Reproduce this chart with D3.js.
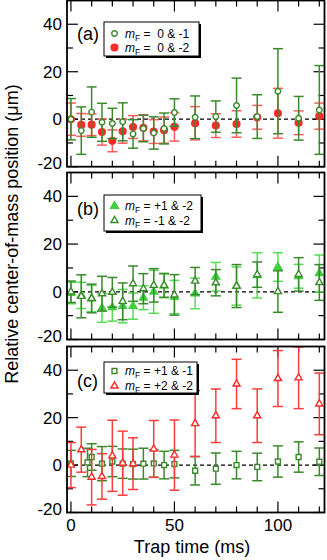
<!DOCTYPE html>
<html>
<head>
<meta charset="utf-8">
<script src="https://cdn.jsdelivr.net/npm/d3@7"></script>
<style>
  body { margin: 0; background: #fff; }
</style>
</head>
<body>
<div id="chart"></div>
<script>
// panel (a)
var timesA = [0, 5, 10, 15, 20, 25, 30, 35, 40, 45, 50, 60, 70, 80, 90, 100, 110, 120];
var a01Values = [0, -4.8, 3.0, -1.3, -1.8, -1.1, -6.2, -3.9, -5.8, -3.9, 2.8, 0.8, 1.1, 5.8, 1.1, 11.8, 0.4, 3.9];
var a01Errors = [8.7, 10, 10.6, 8, 6.4, 8, 6, 5.6, 6.8, 6.5, 5.8, 9, 6.6, 11.5, 9.2, 17.9, 9.2, 18.7];
var a02Values = [0, -2.4, -2.3, -5.4, -9.1, -5.1, -3.3, -3.6, -5.2, -4.6, -3.2, -1.7, -2.7, -2.0, 0.8, 2.5, -1.5, 1.3];
var a02Errors = [6.8, 4.8, 4.6, 5.5, 4.6, 5, 4.8, 5.5, 5, 5.5, 6, 7, 5, 5.6, 5, 10.5, 5, 5.5];

// panel (b)
var timesB = [0, 5, 10, 15, 20, 25, 30, 35, 40, 45, 50, 60, 70, 80, 90, 100, 110, 120];
var bP1Values = [-0.5, -1.5, -2.8, -6.8, -6.5, -6.0, -6.0, -2.5, 0, 2.5, -2.2, -0.7, 6.3, 2.4, 6.9, 10.4, 6.5, 7.7];
var bP1Errors = [4.5, 5.5, 5.5, 6, 5.8, 7, 5.5, 5, 9, 5, 7, 6.4, 6, 8, 9.5, 6, 5, 7.7];
var bM1Values = [0, -1.9, -2.8, -0.8, -0.2, -4.0, 3.4, 1.3, 2.7, 2.7, -1.3, 4.5, 3.8, 2.4, 7.2, 0.1, 7.3, 3.9];
var bM1Errors = [4.5, 9, 6, 7.3, 6.2, 7.7, 7.4, 6.3, 7, 5, 8.5, 5.7, 5.5, 9, 5.3, 8.7, 7, 7.5];

// panel (c)
var timesC1 = [0, 8, 10, 15, 20, 25, 30, 35, 40, 45, 50, 60, 70, 80, 90, 100, 110, 120];
var c11Values = [0.7, 1.1, 3.4, 0.6, 1.5, 0.6, 0.4, 0.6, 0.7, 0, 0.4, -2.4, -1.5, 0, -0.8, 1.5, 3.4, 1.4];
var c11Errors = [5.5, 6, 5.6, 7.2, 6.4, 6.2, 6.3, 6.5, 5.8, 5.8, 5.8, 6, 6.6, 5.8, 5.8, 6.6, 6.4, 5.8];
var timesC2 = [0, 5, 10, 15, 20, 25, 30, 40, 50, 60, 70, 80, 90, 100, 110, 120];
var c22Values = [0, 6.5, -5.1, -4.8, 3.9, 0.8, 0.6, 6.8, 4.2, 17.5, 20.8, 34.2, 20.8, 36.5, 36.8, 25.8];
var c22Errors = [9.5, 9.5, 11.7, 9.6, 15, 13.5, 10.9, 12, 14.8, 13.9, 11.3, 10.4, 11.3, 11.8, 13, 13];

var yMajorTicks = [-20, 0, 20, 40];
var yMinorTicks = [-10, 10, 30];
var xMajorTicks = [0, 50, 100];
var xMinorTicks = [10, 20, 30, 40, 60, 70, 80, 90, 110, 120];

var darkGreen = '#3a8a2c';
var lightGreen = '#3fcf3f';
var red = '#ff2a2a';

var svg = d3.select('#chart')
  .append('svg')
  .attr('width', 327)
  .attr('height', 560)
  .attr('font-family', '"Liberation Sans", Arial, Helvetica, sans-serif');

var x = d3.scaleLinear().domain([-1.9, 122.5]).range([67, 324.5]);

function zip(times, values, errors) {
  return times.map(function(t, i) {
    return {t: t, v: values[i], e: errors[i]};
  });
}

var panels = [
  {
    top: 0.5, bottom: 166.7, label: '(a)', labelY: 40,
    legendY: 22, legendW: 95, legendH: 34, rows: [11.5, 25.5],
    series: [
      {name: ' 0 & -2', data: zip(timesA, a02Values, a02Errors), shape: 'circle', size: 36, fill: red, stroke: red, bar: '#ff5c5c', legend: 1},
      {name: ' 0 & -1', data: zip(timesA, a01Values, a01Errors), shape: 'circle', size: 24, fill: '#fff', stroke: darkGreen, bar: darkGreen, legend: 0}
    ]
  },
  {
    top: 172.5, bottom: 339.5, label: '(b)', labelY: 215,
    legendY: 195, legendW: 97, legendH: 36, rows: [11, 25.5],
    series: [
      {name: '+1 & -2', data: zip(timesB, bP1Values, bP1Errors), shape: 'triangle', size: 26, fill: lightGreen, stroke: lightGreen, bar: '#55dd55', legend: 0},
      {name: '-1 & -2', data: zip(timesB, bM1Values, bM1Errors), shape: 'triangle', size: 22, fill: '#fff', stroke: darkGreen, bar: darkGreen, legend: 1}
    ]
  },
  {
    top: 346.5, bottom: 512.5, label: '(c)', labelY: 387,
    legendY: 362, legendW: 93, legendH: 31, rows: [9, 24],
    series: [
      {name: '+1 & -1', data: zip(timesC1, c11Values, c11Errors), shape: 'square', size: 24, fill: '#fff', stroke: darkGreen, bar: darkGreen, legend: 0},
      {name: '+2 & -2', data: zip(timesC2, c22Values, c22Errors), shape: 'triangle', size: 22, fill: '#fff', stroke: red, bar: '#ff3b3b', legend: 1}
    ]
  }
];

var shapes = {circle: d3.symbolCircle, triangle: d3.symbolTriangle, square: d3.symbolSquare};

panels.forEach(function(p, pi) {
  var y = d3.scaleLinear().domain([-20, 50]).range([p.bottom, p.top]);
  var g = svg.append('g');

  // ticks, inward on all four sides
  var yt = yMajorTicks.map(function(d) { return {v: d, len: 11}; })
    .concat(yMinorTicks.map(function(d) { return {v: d, len: 6}; }));
  var xt = xMajorTicks.map(function(d) { return {v: d, len: 11}; })
    .concat(xMinorTicks.map(function(d) { return {v: d, len: 6}; }));

  yt.forEach(function(d) {
    g.append('line').attr('x1', 67).attr('x2', 67 + d.len)
      .attr('y1', y(d.v)).attr('y2', y(d.v)).attr('stroke', '#000').attr('stroke-width', 1.2);
    g.append('line').attr('x1', 324.5).attr('x2', 324.5 - d.len)
      .attr('y1', y(d.v)).attr('y2', y(d.v)).attr('stroke', '#000').attr('stroke-width', 1.2);
  });
  xt.forEach(function(d) {
    g.append('line').attr('x1', x(d.v)).attr('x2', x(d.v))
      .attr('y1', p.bottom).attr('y2', p.bottom - d.len).attr('stroke', '#000').attr('stroke-width', 1.2);
    g.append('line').attr('x1', x(d.v)).attr('x2', x(d.v))
      .attr('y1', p.top).attr('y2', p.top + d.len).attr('stroke', '#000').attr('stroke-width', 1.2);
  });

  // y tick labels
  yMajorTicks.forEach(function(d) {
    g.append('text')
      .attr('x', 62)
      .attr('y', y(d) + 6 - (d === -20 ? 4 : 0))
      .attr('text-anchor', 'end')
      .attr('font-size', 17)
      .text(d);
  });

  // zero line
  g.append('line')
    .attr('x1', 67).attr('x2', 324.5)
    .attr('y1', y(0)).attr('y2', y(0))
    .attr('stroke', '#000').attr('stroke-width', 1.2)
    .attr('stroke-dasharray', '4,3');

  // data
  p.series.forEach(function(s) {
    var sg = g.append('g');
    var pts = sg.selectAll('.pt').data(s.data).enter().append('g').attr('class', 'pt');
    pts.append('line')
      .attr('x1', function(d) { return x(d.t); })
      .attr('x2', function(d) { return x(d.t); })
      .attr('y1', function(d) { return y(d.v - d.e); })
      .attr('y2', function(d) { return y(d.v + d.e); })
      .attr('stroke', s.bar).attr('stroke-width', 1.5);
    [-1, 1].forEach(function(sign) {
      pts.append('line')
        .attr('x1', function(d) { return x(d.t) - 5; })
        .attr('x2', function(d) { return x(d.t) + 5; })
        .attr('y1', function(d) { return y(d.v + sign * d.e); })
        .attr('y2', function(d) { return y(d.v + sign * d.e); })
        .attr('stroke', s.bar).attr('stroke-width', 1.5);
    });
    pts.append('path')
      .attr('d', d3.symbol(shapes[s.shape], s.size))
      .attr('transform', function(d) { return 'translate(' + x(d.t) + ',' + y(d.v) + ')'; })
      .attr('fill', s.fill)
      .attr('stroke', s.stroke)
      .attr('stroke-width', 1.4);
  });

  // frame
  g.append('rect')
    .attr('x', 67).attr('y', p.top)
    .attr('width', 324.5 - 67).attr('height', p.bottom - p.top)
    .attr('fill', 'none').attr('stroke', '#000').attr('stroke-width', 1.8);

  // panel label
  g.append('text').attr('x', 77).attr('y', p.labelY).attr('font-size', 18).text(p.label);

  // legend with drop shadow
  var lx = 104, ly = p.legendY;
  g.append('rect').attr('x', lx + 2).attr('y', ly + 2).attr('width', p.legendW).attr('height', p.legendH).attr('fill', '#000');
  g.append('rect').attr('x', lx).attr('y', ly).attr('width', p.legendW).attr('height', p.legendH)
    .attr('fill', '#fff').attr('stroke', '#000').attr('stroke-width', 1);
  p.series.forEach(function(s) {
    var rowY = ly + p.rows[s.legend];
    g.append('path')
      .attr('d', d3.symbol(shapes[s.shape], s.size))
      .attr('transform', 'translate(' + (lx + 10.5) + ',' + rowY + ')')
      .attr('fill', s.fill).attr('stroke', s.stroke).attr('stroke-width', 1.4);
    var t = g.append('text').attr('x', lx + 21).attr('y', rowY + 4).attr('font-size', 12)
      .style('white-space', 'pre');
    t.append('tspan').attr('font-style', 'italic').text('m');
    t.append('tspan').attr('font-size', 8.5).attr('dy', 3).text('F');
    t.append('tspan').attr('dy', -3).text(' = ' + s.name);
  });

  // x tick labels on the bottom panel only
  if (pi === panels.length - 1) {
    xMajorTicks.forEach(function(d) {
      g.append('text').attr('x', x(d)).attr('y', 531)
        .attr('text-anchor', 'middle').attr('font-size', 17).text(d);
    });
  }
});

svg.append('text')
  .attr('x', 192).attr('y', 553)
  .attr('text-anchor', 'middle').attr('font-size', 18)
  .text('Trap time (ms)');

svg.append('text')
  .attr('transform', 'translate(18,234) rotate(-90)')
  .attr('text-anchor', 'middle').attr('font-size', 18)
  .text('Relative center-of-mass position (\u03bcm)');
</script>
</body>
</html>
